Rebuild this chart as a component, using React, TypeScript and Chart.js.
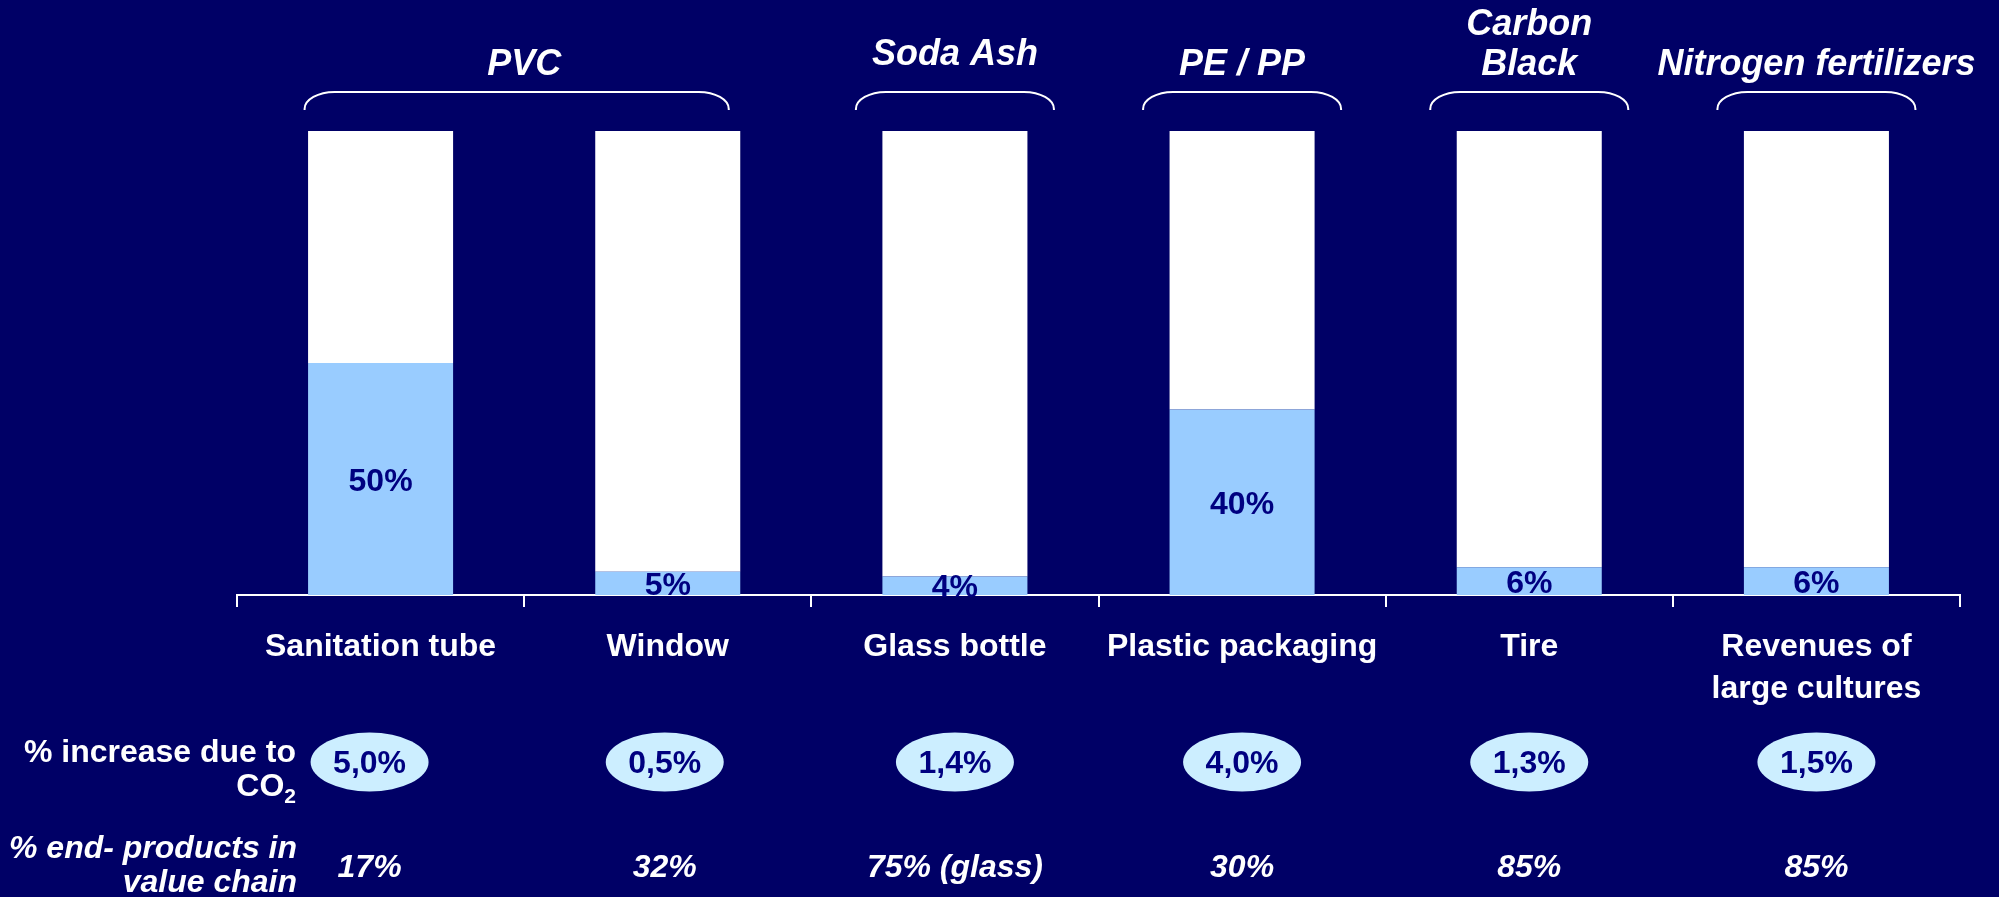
import React, { useEffect, useRef } from "react";
import { Chart, registerables } from "chart.js";

Chart.register(...registerables);

// ---------- data ----------
const categories: string[][] = [
  ["Sanitation tube"],
  ["Window"],
  ["Glass bottle"],
  ["Plastic packaging"],
  ["Tire"],
  ["Revenues of", "large cultures"],
];
const shareValues: number[] = [50, 5, 4, 40, 6, 6];
const shareLabels: string[] = ["50%", "5%", "4%", "40%", "6%", "6%"];
const remainderValues: number[] = shareValues.map((v) => 100 - v);
const co2Increase: string[] = ["5,0%", "0,5%", "1,4%", "4,0%", "1,3%", "1,5%"];
const endProducts: string[] = ["17%", "32%", "75% (glass)", "30%", "85%", "85%"];
const groupNames: string[][] = [["PVC"], ["Soda Ash"], ["PE / PP"], ["Carbon", "Black"], ["Nitrogen fertilizers"]];
const groupFirst: number[] = [0, 2, 3, 4, 5];
const groupLast: number[] = [1, 2, 3, 4, 5];
const rowLabelIncrease: string[] = ["% increase due to", "CO", "2"];
const rowLabelEnd: string[] = ["% end- products in", "value chain"];

// ---------- style ----------
const FONT = '"Liberation Sans", Arial, Helvetica, sans-serif';
const NAVY = "#000066";
const TEXT_NAVY = "#000080";
const BAR_BLUE = "#99CCFF";
const ELLIPSE_BLUE = "#CCEEFF";
const BRACE_PAD_LEFT = [76, 99, 99, 99, 99];
const BRACE_PAD_RIGHT = [61, 99, 99, 99, 99];
const GROUP_BASELINE = [75, 65, 75, 75, 75];
const GROUP_LINE_GAP = 40;
const ROW_X_SHIFT = [-11, -3, 0, 0, 0, 0];

const overlayPlugin = {
  id: "overlay",
  beforeDraw(chart: any) {
    const ctx = chart.ctx;
    ctx.save();
    ctx.fillStyle = NAVY;
    ctx.fillRect(0, 0, chart.width, chart.height);
    ctx.restore();
  },
  afterDraw(chart: any) {
    const ctx: CanvasRenderingContext2D = chart.ctx;
    const xs = chart.scales.x;
    const cx = (i: number) => xs.getPixelForValue(i);
    ctx.save();

    // bar value labels
    const meta = chart.getDatasetMeta(0);
    ctx.font = `bold 32px ${FONT}`;
    ctx.fillStyle = TEXT_NAVY;
    ctx.textAlign = "center";
    ctx.textBaseline = "alphabetic";
    meta.data.forEach((bar: any, i: number) => {
      const p = bar.getProps(["x", "y", "base"], true);
      ctx.fillText(shareLabels[i], p.x, (p.y + p.base) / 2 + 11.5);
    });

    // group braces and labels
    ctx.strokeStyle = "#FFFFFF";
    ctx.lineWidth = 2;
    groupNames.forEach((lines, g) => {
      const left = cx(groupFirst[g]) - BRACE_PAD_LEFT[g];
      const right = cx(groupLast[g]) + BRACE_PAD_RIGHT[g];
      const top = 92;
      const bottom = 110;
      const rx = 30;
      const ry = 17;
      ctx.beginPath();
      ctx.moveTo(left, bottom);
      ctx.lineTo(left, top + ry);
      ctx.bezierCurveTo(left, top + ry * 0.45, left + rx * 0.45, top, left + rx, top);
      ctx.lineTo(right - rx, top);
      ctx.bezierCurveTo(right - rx * 0.45, top, right, top + ry * 0.45, right, top + ry);
      ctx.lineTo(right, bottom);
      ctx.stroke();

      const mid = (cx(groupFirst[g]) + cx(groupLast[g])) / 2;
      ctx.font = `italic bold 36px ${FONT}`;
      ctx.fillStyle = "#FFFFFF";
      ctx.textAlign = "center";
      const n = lines.length;
      lines.forEach((t, k) => {
        ctx.fillText(t, mid, GROUP_BASELINE[g] - (n - 1 - k) * GROUP_LINE_GAP);
      });
    });

    // row labels
    const labelRight = 296;
    ctx.fillStyle = "#FFFFFF";
    ctx.textAlign = "right";
    ctx.font = `bold 32px ${FONT}`;
    ctx.fillText(rowLabelIncrease[0], labelRight, 762);
    ctx.font = `bold 21px ${FONT}`;
    const w2 = ctx.measureText(rowLabelIncrease[2]).width;
    ctx.fillText(rowLabelIncrease[2], labelRight, 803);
    ctx.font = `bold 32px ${FONT}`;
    ctx.fillText(rowLabelIncrease[1], labelRight - w2, 796);

    ctx.font = `italic bold 32px ${FONT}`;
    ctx.fillText(rowLabelEnd[0], labelRight + 1, 858);
    ctx.fillText(rowLabelEnd[1], labelRight + 1, 892);

    // ellipses with CO2 increase, and end-product shares
    categories.forEach((_, i) => {
      const x = cx(i) + ROW_X_SHIFT[i];
      ctx.beginPath();
      ctx.ellipse(x, 762, 59, 29.5, 0, 0, Math.PI * 2);
      ctx.fillStyle = ELLIPSE_BLUE;
      ctx.fill();
      ctx.fillStyle = TEXT_NAVY;
      ctx.textAlign = "center";
      ctx.font = `bold 32px ${FONT}`;
      ctx.fillText(co2Increase[i], x, 773);

      ctx.fillStyle = "#FFFFFF";
      ctx.font = `italic bold 32px ${FONT}`;
      ctx.fillText(endProducts[i], x, 877);
    });

    ctx.restore();
  },
};

export default function App() {
  const canvasRef = useRef<HTMLCanvasElement | null>(null);

  useEffect(() => {
    document.body.style.margin = "0";
    document.body.style.background = NAVY;
    const canvas = canvasRef.current;
    if (!canvas) return;
    const chart = new Chart(canvas, {
      type: "bar",
      data: {
        labels: categories,
        datasets: [
          {
            label: "Share",
            data: shareValues,
            backgroundColor: BAR_BLUE,
            borderWidth: 0,
            barPercentage: 0.505,
            categoryPercentage: 1,
          },
          {
            label: "Rest",
            data: remainderValues,
            backgroundColor: "#FFFFFF",
            borderWidth: 0,
            barPercentage: 0.505,
            categoryPercentage: 1,
          },
        ],
      },
      options: {
        animation: false,
        responsive: false,
        devicePixelRatio: 1,
        layout: { padding: { left: 237, right: 39, top: 131, bottom: 0 } },
        plugins: {
          legend: { display: false },
          tooltip: { enabled: false },
        },
        scales: {
          x: {
            stacked: true,
            offset: true,
            grid: {
              display: true,
              offset: true,
              drawOnChartArea: false,
              drawTicks: true,
              tickLength: 12,
              color: "#FFFFFF",
              lineWidth: 2,
            },
            border: { display: true, color: "#FFFFFF", width: 2 },
            ticks: {
              color: "#FFFFFF",
              font: { family: FONT, size: 32, weight: "bold", lineHeight: 1.3125 },
              padding: 19,
              autoSkip: false,
              maxRotation: 0,
              minRotation: 0,
            },
            afterFit: (scale: any) => {
              scale.height = 302;
            },
          },
          y: {
            stacked: true,
            display: false,
            min: 0,
            max: 100,
          },
        },
      },
      plugins: [overlayPlugin],
    } as any);
    return () => chart.destroy();
  }, []);

  return (
    <div style={{ width: 1999, height: 897, background: NAVY }}>
      <canvas ref={canvasRef} width={1999} height={897} style={{ display: "block" }} />
    </div>
  );
}
